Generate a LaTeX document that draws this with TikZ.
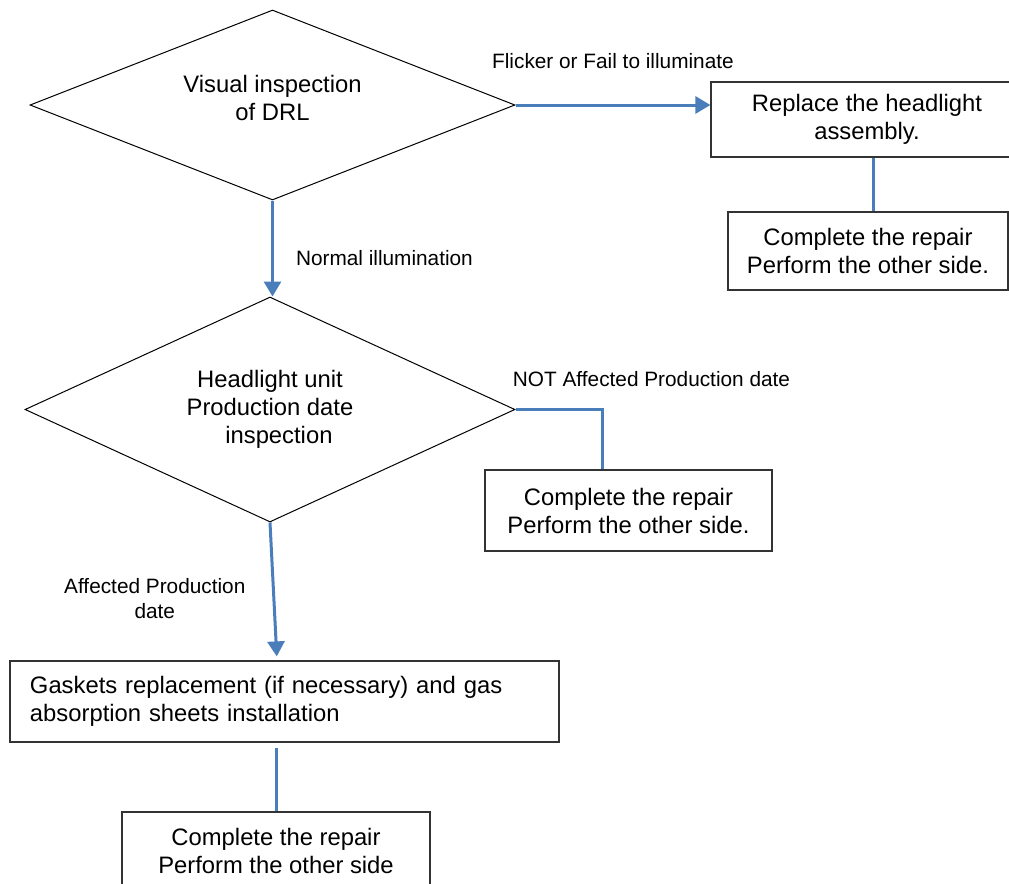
\documentclass[tikz,border=0pt]{standalone}
\usepackage{fontspec}
\setmainfont{Liberation Sans}
\usetikzlibrary{shapes.geometric,arrows.meta}
\definecolor{flowblue}{HTML}{4A7EBB}

\begin{document}
\begin{tikzpicture}[x=0.5pt, y=-0.5pt,
        decision/.style={draw, diamond, aspect=2.5, inner sep=0pt, line width=0.5pt, font=\fontsize{11.9}{14}\selectfont, align=center},
        box/.style={draw=black!80, rectangle, inner sep=0pt, line width=0.6pt, font=\fontsize{11.9}{14}\selectfont, align=center},
        flow/.style={draw=flowblue, line width=1.5pt},
        tip/.style={-{Triangle[length=7.5pt, width=8.5pt]}},
        lbl/.style={inner sep=0pt, font=\fontsize{10.4}{12.5}\selectfont}]
        \useasboundingbox (0,0) rectangle (1009,884);

        \node[decision, minimum width=242.5pt, minimum height=95pt, text depth=7pt] (visual) at (272.5,105) {Visual inspection\\of DRL};
        \node[box, minimum width=156pt, minimum height=37.5pt] (replace) at (867,119.5) {Replace the headlight\\assembly.};
        \node[box, minimum width=140pt, minimum height=39pt] (doneA) at (868,251) {Complete the repair\\Perform the other side.};
        \node[decision, minimum width=245pt, minimum height=112.5pt] (proddate) at (270,409.5) {Headlight unit\\Production date\\\hspace*{0.75em}inspection};
        \node[box, minimum width=143.5pt, minimum height=40.5pt] (doneB) at (628.5,510.5) {Complete the repair\\Perform the other side.};
        \node[box, text width=254.5pt, inner xsep=10pt, align=left, minimum height=40.5pt] (gasket) at (284.5,701.5) {Gaskets replacement (if necessary) and gas\\absorption sheets installation};
        \node[box, minimum width=154pt, minimum height=39pt] (doneC) at (276,851) {Complete the repair\\Perform the other side};

        \draw[flow, tip] (visual.east) -- (visual.east -| replace.west) node[lbl, above=17.5pt, midway] (lflicker) {Flicker or Fail to illuminate};
        \draw[flow] ([xshift=2.5pt]doneA.north) -- ([xshift=2.5pt]doneA.north |- replace.south);
        \draw[flow, tip] (visual.south) -- (visual.south |- proddate.north) node[lbl, right=11pt, pos=0.6] (lnormal) {Normal illumination};
        \draw[flow] (proddate.east) -| ([xshift=-13pt]doneB.north);
        \node[lbl] (lnot) at ([xshift=68pt, yshift=15pt]proddate.east) {NOT Affected Production date};
        \draw[flow, tip, shorten >=2pt] (proddate.south) -- ([xshift=-3.75pt]gasket.north) node[lbl, left=13.5pt, pos=0.55, align=center] (laffected) {Affected Production\\date};
        \draw[flow, shorten >=2.5pt] (doneC.north) -- (doneC.north |- gasket.south);
    \end{tikzpicture}
\end{document}
